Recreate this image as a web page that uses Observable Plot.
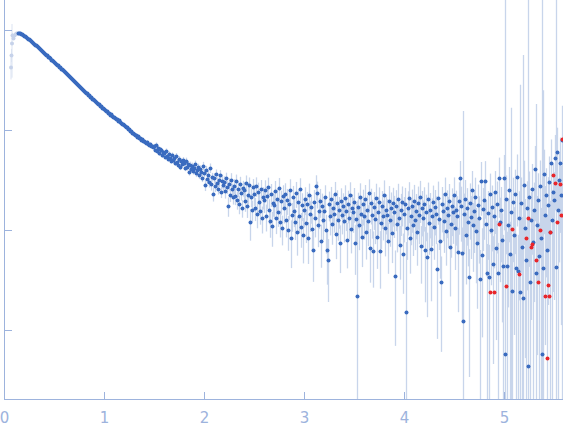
<!DOCTYPE html>
<html><head><meta charset="utf-8">
<script src="https://cdn.jsdelivr.net/npm/d3@7"></script>
<script src="https://cdn.jsdelivr.net/npm/@observablehq/plot@0.6"></script>
<style>html,body{margin:0;padding:0;background:#fff;} svg{display:block;}</style>
</head><body><div id="chart"></div>
<script>
// scattering vector s (nm^-1)
const q = [
0.14,0.15,0.16,0.17,0.18,0.19,
0.2,0.21,0.22,0.23,0.24,0.25,0.26,0.27,0.28,0.29,
0.3,0.31,0.32,0.33,0.34,0.35,0.36,0.37,0.38,0.39,
0.4,0.41,0.42,0.43,0.44,0.45,0.46,0.47,0.48,0.49,
0.5,0.51,0.52,0.53,0.54,0.55,0.56,0.57,0.58,0.59,
0.6,0.61,0.62,0.63,0.64,0.65,0.66,0.67,0.68,0.69,
0.7,0.71,0.72,0.73,0.74,0.75,0.76,0.77,0.78,0.79,
0.8,0.81,0.82,0.83,0.84,0.85,0.86,0.87,0.88,0.89,
0.9,0.91,0.92,0.93,0.94,0.95,0.96,0.97,0.98,0.99,
1.0,1.01,1.02,1.03,1.04,1.05,1.06,1.07,1.08,1.09,
1.1,1.11,1.12,1.13,1.14,1.15,1.16,1.17,1.18,1.19,
1.2,1.21,1.22,1.23,1.24,1.25,1.26,1.27,1.28,1.29,
1.3,1.31,1.32,1.33,1.34,1.35,1.36,1.37,1.38,1.39,
1.4,1.41,1.42,1.43,1.44,1.45,1.46,1.47,1.48,1.49,
1.5,1.51,1.52,1.53,1.54,1.55,1.56,1.57,1.58,1.59,
1.6,1.61,1.62,1.63,1.64,1.65,1.66,1.67,1.68,1.69,
1.7,1.71,1.72,1.73,1.74,1.75,1.76,1.77,1.78,1.79,
1.8,1.81,1.82,1.83,1.84,1.85,1.86,1.87,1.88,1.89,
1.9,1.91,1.92,1.93,1.94,1.95,1.96,1.97,1.98,1.99,
2.0,2.01,2.02,2.03,2.04,2.05,2.06,2.07,2.08,2.09,
2.1,2.11,2.12,2.13,2.14,2.15,2.16,2.17,2.18,2.19,
2.2,2.21,2.22,2.23,2.24,2.25,2.26,2.27,2.28,2.29,
2.3,2.31,2.32,2.33,2.34,2.35,2.36,2.37,2.38,2.39,
2.4,2.41,2.42,2.43,2.44,2.45,2.46,2.47,2.48,2.49,
2.5,2.51,2.52,2.53,2.54,2.55,2.56,2.57,2.58,2.59,
2.6,2.61,2.62,2.63,2.64,2.65,2.66,2.67,2.68,2.69,
2.7,2.71,2.72,2.73,2.74,2.75,2.76,2.77,2.78,2.79,
2.8,2.81,2.82,2.83,2.84,2.85,2.86,2.87,2.88,2.89,
2.9,2.91,2.92,2.93,2.94,2.95,2.96,2.97,2.98,2.99,
3.0,3.01,3.02,3.03,3.04,3.05,3.06,3.07,3.08,3.09,
3.1,3.11,3.12,3.13,3.14,3.15,3.16,3.17,3.18,3.19,
3.2,3.21,3.22,3.23,3.24,3.25,3.26,3.27,3.28,3.29,
3.3,3.31,3.32,3.33,3.34,3.35,3.36,3.37,3.38,3.39,
3.4,3.41,3.42,3.43,3.44,3.45,3.46,3.47,3.48,3.49,
3.5,3.51,3.52,3.53,3.54,3.55,3.56,3.57,3.58,3.59,
3.6,3.61,3.62,3.63,3.64,3.65,3.66,3.67,3.68,3.69,
3.7,3.71,3.72,3.73,3.74,3.75,3.76,3.77,3.78,3.79,
3.8,3.81,3.82,3.83,3.84,3.85,3.86,3.87,3.88,3.89,
3.9,3.91,3.92,3.93,3.94,3.95,3.96,3.97,3.98,3.99,
4.0,4.01,4.02,4.03,4.04,4.05,4.06,4.07,4.08,4.09,
4.1,4.11,4.12,4.13,4.14,4.15,4.16,4.17,4.18,4.19,
4.2,4.21,4.22,4.23,4.24,4.25,4.26,4.27,4.28,4.29,
4.3,4.31,4.32,4.33,4.34,4.35,4.36,4.37,4.38,4.39,
4.4,4.41,4.42,4.43,4.44,4.45,4.46,4.47,4.48,4.49,
4.5,4.51,4.52,4.53,4.54,4.55,4.56,4.57,4.58,4.59,
4.6,4.61,4.62,4.63,4.64,4.65,4.66,4.67,4.68,4.69,
4.7,4.71,4.72,4.73,4.74,4.75,4.76,4.77,4.78,4.79,
4.8,4.81,4.82,4.83,4.84,4.85,4.86,4.87,4.88,4.89,
4.9,4.91,4.92,4.93,4.94,4.95,4.96,4.97,4.98,4.99,
5.0,5.01,5.02,5.03,5.04,5.05,5.06,5.07,5.08,5.09,
5.1,5.11,5.12,5.13,5.14,5.15,5.16,5.17,5.18,5.19,
5.2,5.21,5.22,5.23,5.24,5.25,5.26,5.27,5.28,5.29,
5.3,5.31,5.32,5.33,5.34,5.35,5.36,5.37,5.38,5.39,
5.4,5.41,5.42,5.43,5.44,5.45,5.46,5.47,5.48,5.49,
5.5,5.51,5.52,5.53,5.54,5.55,5.56,5.57,5.58
];
// log10 of intensity (arbitrary units)
const logI = [
2.97,2.97,2.97,2.96,2.96,2.95,
2.94,2.94,2.93,2.92,2.91,2.91,2.90,2.89,2.88,2.87,
2.86,2.85,2.85,2.84,2.83,2.82,2.81,2.80,2.79,2.78,
2.77,2.76,2.75,2.75,2.73,2.73,2.72,2.70,2.70,2.69,
2.68,2.67,2.66,2.65,2.65,2.63,2.63,2.61,2.61,2.60,
2.59,2.58,2.57,2.56,2.55,2.54,2.53,2.52,2.51,2.50,
2.49,2.48,2.47,2.46,2.45,2.44,2.43,2.42,2.41,2.40,
2.39,2.38,2.37,2.37,2.35,2.35,2.33,2.33,2.31,2.31,
2.30,2.29,2.28,2.27,2.26,2.26,2.24,2.24,2.22,2.22,
2.21,2.20,2.19,2.19,2.17,2.17,2.15,2.16,2.14,2.13,
2.13,2.12,2.11,2.11,2.09,2.10,2.08,2.07,2.06,2.06,
2.05,2.04,2.03,2.03,2.01,2.01,1.99,1.99,1.97,1.97,
1.96,1.95,1.95,1.93,1.94,1.92,1.92,1.90,1.91,1.89,
1.89,1.88,1.87,1.88,1.86,1.85,1.86,1.84,1.84,1.83,
1.84,1.80,1.85,1.79,1.82,1.77,1.81,1.80,1.75,1.78,
1.77,1.73,1.79,1.74,1.71,1.76,1.72,1.69,1.75,1.70,
1.72,1.67,1.74,1.68,1.65,1.71,1.63,1.69,1.66,1.70,
1.67,1.62,1.69,1.63,1.66,1.58,1.65,1.61,1.64,1.59,
1.62,1.66,1.57,1.60,1.63,1.55,1.61,1.58,1.52,1.64,
1.57,1.45,1.60,1.51,1.55,1.48,1.62,1.46,1.53,1.36,
1.52,1.44,1.56,1.47,1.41,1.50,1.55,1.38,1.49,1.45,
1.48,1.39,1.52,1.43,1.24,1.46,1.35,1.50,1.41,1.33,
1.44,1.34,1.49,1.30,1.41,1.26,1.46,1.37,1.22,1.42,
1.40,1.29,1.47,1.24,1.35,1.45,1.08,1.33,1.20,1.43,
1.36,1.22,1.44,1.16,1.38,1.28,1.19,1.41,1.12,1.33,
1.30,1.40,1.14,1.34,1.43,1.20,1.09,1.36,1.04,1.27,
1.25,1.39,1.12,1.31,1.18,1.42,1.08,1.29,1.02,1.34,
1.22,1.36,1.10,1.30,1.00,1.26,1.40,0.92,1.15,1.33,
1.19,1.08,1.37,0.98,1.28,1.14,1.41,1.03,1.25,0.95,
1.20,1.31,1.07,1.26,0.92,1.35,1.16,1.23,1.01,0.80,
1.28,1.12,1.44,1.37,1.05,1.19,1.29,0.89,1.24,1.10,
1.19,1.33,1.00,0.80,0.70,1.26,1.14,1.31,1.06,1.22,
1.16,1.36,0.96,1.27,1.10,1.20,0.87,1.29,1.15,1.24,
1.09,1.32,1.19,0.90,1.26,1.12,1.35,1.01,1.22,1.18,
1.28,0.87,1.11,0.34,1.23,1.05,1.33,1.16,0.93,1.26,
1.14,1.31,0.98,1.20,1.09,1.37,0.82,1.27,1.15,0.79,
1.23,1.11,1.32,0.93,1.18,1.28,0.79,1.07,1.24,1.14,
1.35,1.02,1.20,1.15,0.89,1.29,1.10,1.22,0.97,1.27,
1.18,0.54,1.24,1.06,1.31,1.12,0.85,1.20,1.28,0.76,
1.16,1.26,0.18,1.02,1.22,1.32,0.92,1.14,1.24,1.05,
1.29,1.10,1.19,0.98,1.27,1.15,1.33,0.84,1.22,1.12,
1.26,0.80,1.18,0.73,1.31,1.07,1.20,0.81,1.14,1.28,
1.03,1.23,1.16,0.61,1.32,1.11,0.89,0.48,1.26,1.19,
1.09,1.36,0.99,1.22,1.15,1.29,0.83,1.06,1.24,1.18,
1.35,1.02,1.20,1.14,0.78,1.29,1.52,1.24,0.77,0.09,
1.16,1.31,0.95,1.22,1.08,0.53,1.27,1.13,1.40,1.05,
1.19,1.33,0.99,0.87,1.25,1.12,0.51,1.49,0.75,1.21,
1.30,1.49,1.06,0.57,1.17,0.53,1.36,1.00,1.23,0.66,
1.14,1.38,0.82,1.26,0.57,1.52,1.08,1.20,0.90,0.64,
1.52,-0.24,1.31,0.64,1.05,1.40,0.76,1.18,0.39,1.28,
0.95,1.36,0.62,1.53,0.59,1.12,0.38,1.27,0.83,0.32,
1.45,1.02,0.70,1.22,-0.36,1.33,0.48,1.10,1.41,0.88,
1.20,1.61,0.57,1.05,1.30,0.74,1.44,0.92,-0.24,0.62,
1.56,1.15,1.35,0.80,1.25,1.48,0.98,1.67,1.10,1.38,
1.30,1.72,0.63,1.78,1.20,1.50,1.67,1.35,1.90
];
// relative error sigma/I
const relErr = [
0.01,0.01,0.01,0.01,0.01,0.01,
0.01,0.01,0.01,0.01,0.01,0.01,0.01,0.01,0.01,0.01,
0.01,0.01,0.01,0.01,0.01,0.01,0.01,0.01,0.01,0.01,
0.01,0.01,0.01,0.01,0.01,0.01,0.01,0.01,0.01,0.01,
0.01,0.01,0.01,0.01,0.01,0.01,0.01,0.01,0.01,0.01,
0.01,0.01,0.01,0.01,0.01,0.01,0.01,0.01,0.01,0.01,
0.01,0.01,0.01,0.01,0.01,0.01,0.01,0.01,0.01,0.01,
0.01,0.01,0.01,0.01,0.01,0.01,0.01,0.01,0.01,0.01,
0.01,0.01,0.01,0.01,0.01,0.01,0.01,0.01,0.01,0.01,
0.02,0.02,0.02,0.02,0.02,0.02,0.02,0.02,0.02,0.02,
0.02,0.02,0.02,0.02,0.02,0.02,0.02,0.02,0.02,0.02,
0.03,0.03,0.03,0.03,0.03,0.03,0.03,0.03,0.03,0.03,
0.03,0.03,0.03,0.03,0.03,0.03,0.03,0.03,0.03,0.03,
0.04,0.04,0.04,0.04,0.04,0.04,0.04,0.04,0.04,0.04,
0.05,0.05,0.06,0.05,0.05,0.06,0.05,0.05,0.06,0.05,
0.06,0.05,0.06,0.06,0.05,0.06,0.06,0.05,0.06,0.06,
0.07,0.06,0.07,0.07,0.06,0.07,0.07,0.06,0.07,0.07,
0.08,0.07,0.08,0.08,0.07,0.08,0.08,0.07,0.08,0.08,
0.09,0.08,0.09,0.09,0.08,0.09,0.09,0.08,0.09,0.1,
0.1,0.13,0.1,0.11,0.1,0.12,0.11,0.14,0.1,0.16,
0.12,0.13,0.11,0.14,0.12,0.15,0.12,0.13,0.16,0.12,
0.14,0.16,0.13,0.15,0.22,0.14,0.15,0.17,0.13,0.16,
0.17,0.19,0.16,0.2,0.17,0.21,0.18,0.16,0.2,0.18,
0.2,0.22,0.19,0.24,0.2,0.19,0.35,0.21,0.24,0.2,
0.24,0.26,0.22,0.28,0.24,0.25,0.27,0.23,0.3,0.25,
0.26,0.25,0.3,0.26,0.24,0.28,0.32,0.26,0.38,0.27,
0.28,0.26,0.31,0.27,0.29,0.26,0.3,0.27,0.33,0.28,
0.3,0.28,0.33,0.29,0.38,0.31,0.28,0.5,0.32,0.29,
0.31,0.34,0.29,0.42,0.31,0.33,0.28,0.38,0.31,0.48,
0.33,0.31,0.37,0.32,0.45,0.3,0.34,0.32,0.4,0.52,
0.32,0.36,0.28,0.3,0.4,0.34,0.32,0.46,0.33,0.37,
0.34,0.31,0.42,0.55,0.62,0.33,0.36,0.32,0.38,0.34,
0.35,0.32,0.44,0.34,0.38,0.35,0.5,0.34,0.36,0.34,
0.39,0.34,0.37,0.48,0.36,0.39,0.34,0.43,0.37,0.38,
0.38,0.52,0.42,8,0.39,0.44,0.37,0.41,0.5,0.39,
0.42,0.38,0.47,0.4,0.44,0.37,0.55,0.39,0.42,0.57,
0.41,0.44,0.39,0.52,0.42,0.4,0.58,0.45,0.41,0.43,
0.4,0.48,0.43,0.44,0.53,0.41,0.46,0.43,0.5,0.42,
0.45,0.8,0.44,0.48,0.42,0.46,0.55,0.45,0.43,0.6,
0.48,0.45,4,0.52,0.47,0.44,0.56,0.49,0.46,0.51,
0.45,0.5,0.48,0.54,0.46,0.49,0.45,0.58,0.48,0.5,
0.47,0.7,0.49,0.75,0.46,0.52,0.48,0.7,0.5,0.46,
0.53,0.48,0.5,0.8,0.46,0.51,0.58,0.8,0.48,0.5,
0.52,0.46,0.55,0.5,0.52,0.48,0.68,0.54,0.5,0.52,
0.5,0.62,0.56,0.58,0.75,0.54,0.48,0.56,0.8,125,
0.6,0.55,0.68,0.58,0.64,0.9,0.57,0.62,0.55,0.66,
0.62,0.56,0.7,0.78,0.6,0.65,0.95,0.55,0.85,0.62,
0.6,0.58,0.7,0.95,0.66,1.1,0.6,0.72,0.64,0.9,
0.7,0.62,0.88,0.68,1.0,0.6,0.75,0.7,0.85,1.05,
0.7,5000,0.72,1.2,0.85,0.7,1.1,10,1.3,0.75,
0.9,0.75,1.2,0.68,1.3,0.85,117,0.8,1.0,268,
0.75,0.95,1.1,0.85,6000,0.8,1.4,0.9,0.78,1.05,
0.88,0.7,48,0.95,0.85,1.15,0.8,1.0,5000,59,
0.75,0.95,0.85,1.2,0.9,0.8,1.05,0.72,1.0,0.9,
0.9,0.7,600,0.75,1.0,0.85,0.8,0.95,1.2
];
// excluded low-angle points (drawn faint)
const faintQ = [0.065,0.07,0.075,0.08,0.09,0.10,0.11,0.12,0.13];
const faintLogI = [2.63,2.75,2.87,2.95,2.92,2.95,2.96,2.97,2.97];
const faintErr = [0.25,0.15,0.55,0.05,0.04,0.02,0.02,0.01,0.01];
// flagged points (drawn red)
const redQ = [4.86,4.90,4.95,5.02,5.08,5.15,5.22,5.24,5.27,5.28,5.32,5.34,5.36,5.41,5.43,5.44,5.45,5.46,5.49,5.51,5.53,5.56,5.57,5.58];
const redLogI = [0.38,0.38,1.06,0.44,1.01,0.56,0.92,1.12,0.83,0.86,0.70,0.48,1.00,0.34,-0.28,0.45,0.34,0.98,1.55,1.47,1.08,1.46,1.15,1.91];
const xTicks = [0,1,2,3,4,5];
const yTicks = [1,10,100,1000];

const yMin = 10 ** -0.69, yMax = 10 ** 3.3;
const axisColor = "#9db3dd";
const main = q.map((d, i) => ({q: d, I: 10 ** logI[i], r: relErr[i]}));
const faint = faintQ.map((d, i) => ({q: d, I: 10 ** faintLogI[i], r: faintErr[i]}));
const red = redQ.map((d, i) => ({q: d, I: 10 ** redLogI[i]}));
const lo = d => d.r >= 1 ? yMin : d.I * (1 - d.r);
const hi = d => d.I * (1 + d.r);

const chart = Plot.plot({
  width: 563, height: 437,
  marginLeft: 4, marginRight: 0, marginTop: 0, marginBottom: 38,
  style: {background: "#fff", fontFamily: "DejaVu Sans, sans-serif", overflow: "hidden"},
  x: {domain: [0, 5.59], label: null},
  y: {type: "log", domain: [yMin, yMax], axis: null, label: null},
  marks: [
    Plot.ruleX(faint, {x: "q", y1: lo, y2: hi, stroke: "#dbe3f2", strokeWidth: 1, clip: true}),
    Plot.ruleX(main, {x: "q", y1: lo, y2: hi, stroke: "#c8d5eb", strokeWidth: 1.3, clip: true}),
    Plot.dot(faint, {x: "q", y: "I", r: 2, fill: "#c6d2ea"}),
    Plot.dot(main, {x: "q", y: "I", r: 2, fill: "#3a6bbf", clip: true}),
    Plot.dot(red, {x: "q", y: "I", r: 2, fill: "#e8262b", clip: true}),
    Plot.ruleX([0], {stroke: axisColor}),
    Plot.ruleY([yMin], {stroke: axisColor}),
    Plot.tickX(xTicks, {x: d => d, insetTop: 392, stroke: axisColor}),
    Plot.tickY(yTicks, {y: d => d, insetRight: 551, stroke: axisColor}),
    Plot.axisX(xTicks, {tickSize: 0, tickPadding: 13, fontSize: 15, color: axisColor, label: null})
  ]
});
document.getElementById("chart").appendChild(chart);
</script>
</body></html>
